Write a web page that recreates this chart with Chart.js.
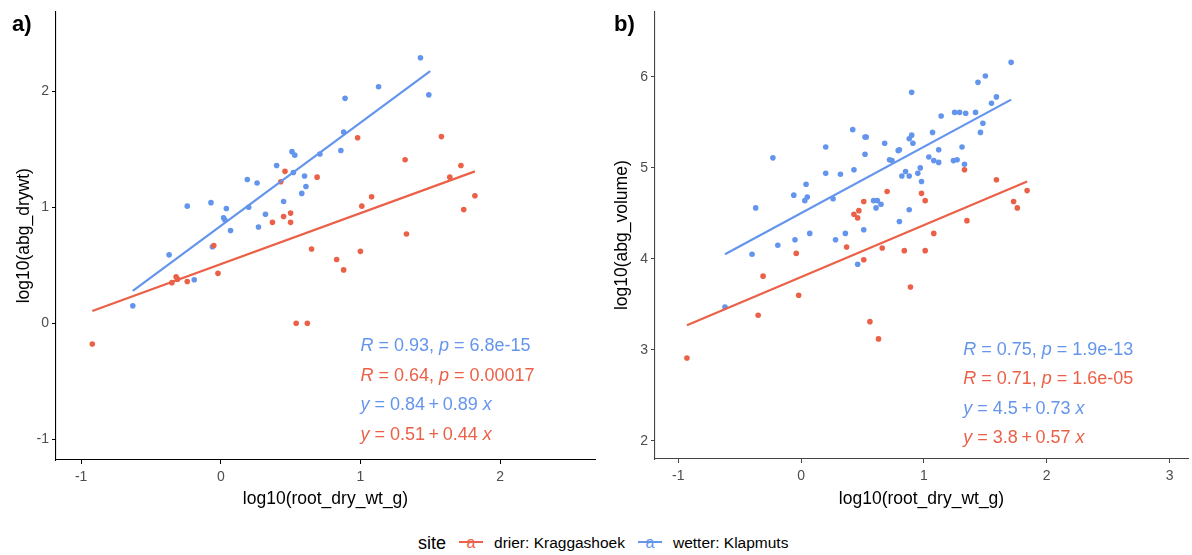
<!DOCTYPE html>
<html>
<head>
<meta charset="utf-8">
<script src="https://cdn.jsdelivr.net/npm/chart.js@4.4.1/dist/chart.umd.min.js"></script>
<style>
  body { margin: 0; background: #fff; font-family: "Liberation Sans", Arial, sans-serif; }
  #wrap { position: relative; width: 1192px; height: 555px; }
  canvas { position: absolute; top: 0; }
  .tag { position: absolute; top: 13px; font-size: 22px; font-weight: bold; line-height: 1; color: #000; }
  #legend { position: absolute; top: 532px; left: 418px; height: 22px; display: flex; align-items: center; color: #000; }
  #legend .ttl { font-size: 18px; margin-right: 12px; }
  #legend .key { position: relative; width: 26px; height: 20px; margin-right: 10px; }
  #legend .key i { position: absolute; left: 1px; right: 1px; top: 8px; height: 2px; }
  #legend .key b { position: absolute; left: 0; right: 0; top: 0px; text-align: center; font-weight: normal; font-size: 16px; line-height: 20px; }
  #legend .lab { font-size: 15.5px; margin-right: 12px; }
</style>
</head>
<body>
<div id="wrap">
  <canvas id="chartA" width="600" height="510" style="left:0"></canvas>
  <canvas id="chartB" width="592" height="510" style="left:600px"></canvas>
  <div class="tag" style="left:12px">a)</div>
  <div class="tag" style="left:614px">b)</div>
  <div id="legend"></div>
</div>
<script>
const RED = '#EB6148';
const BLUE = '#6495ED';
const legendTitle = 'site';
const siteNames = ['drier: Kraggashoek', 'wetter: Klapmuts'];

/* panel a) - dry weight */
const aDryX = [-0.92, -0.35, -0.32, -0.31, -0.24, -0.05, -0.02, 0.37, 0.43, 0.45, 0.46, 0.50, 0.50, 0.54, 0.62,
  0.65, 0.69, 0.83, 0.88, 0.98, 1.00, 1.01, 1.08, 1.32, 1.33, 1.58, 1.64, 1.72, 1.74, 1.82];
const aDryY = [-0.18, 0.35, 0.40, 0.38, 0.36, 0.67, 0.43, 0.87, 1.22, 0.92, 1.31, 0.95, 0.87, 0.00, 0.00,
  0.64, 1.26, 0.55, 0.46, 1.60, 0.62, 1.01, 1.09, 1.41, 0.77, 1.61, 1.26, 1.36, 0.98, 1.10];
const aWetX = [-0.63, -0.37, -0.24, -0.19, -0.07, -0.06, 0.02, 0.03, 0.04, 0.07, 0.19, 0.20, 0.26, 0.27, 0.32,
  0.40, 0.45, 0.51, 0.52, 0.53, 0.58, 0.60, 0.61, 0.71, 0.86, 0.88, 0.89, 1.13, 1.43, 1.49];
const aWetY = [0.15, 0.59, 1.01, 0.375, 1.04, 0.66, 0.91, 0.89, 0.99, 0.80, 1.24, 1.00, 1.21, 0.83, 0.94,
  1.36, 1.05, 1.48, 1.30, 1.45, 1.12, 1.27, 1.18, 1.46, 1.49, 1.65, 1.94, 2.04, 2.29, 1.97];
const aFitDryX = [-0.92, 1.82], aFitDryY = [0.105, 1.31];
const aFitWetX = [-0.63, 1.50], aFitWetY = [0.28, 2.175];
const aXTicks = [-1, 0, 1, 2];
const aYTicks = [-1, 0, 1, 2];
const aStats = [
  [BLUE, 'R = 0.93, p = 6.8e-15'],
  [RED, 'R = 0.64, p = 0.00017'],
  [BLUE, 'y = 0.84\u2009+\u20090.89 x'],
  [RED, 'y = 0.51\u2009+\u20090.44 x']
];

/* panel b) - volume */
const bDryX = [-0.93, -0.35, -0.31, -0.04, -0.02, 0.37, 0.43, 0.46, 0.47, 0.51, 0.51, 0.56, 0.63, 0.66, 0.70,
  0.84, 0.89, 0.98, 1.01, 1.01, 1.08, 1.33, 1.35, 1.59, 1.73, 1.76, 1.84];
const bDryY = [2.91, 3.38, 3.81, 4.06, 3.60, 4.13, 4.49, 4.45, 4.53, 4.63, 3.99, 3.31, 3.12, 4.12, 4.74,
  4.09, 3.69, 4.72, 4.64, 4.09, 4.28, 4.98, 4.42, 4.87, 4.63, 4.56, 4.75];
const bWetX = [0.90, 0.42, 0.52, 0.53, 0.20, -0.23, 0.52, 0.68, 0.80, 0.79, 0.88, 0.90, 0.91, 0.72, 0.74,
  0.43, 0.20, 0.32, 0.82, 0.85, 0.88, 0.95, 0.97, -0.06, 0.04, 0.03, 0.05, 0.26, -0.37, 0.59,
  0.62, 0.65, 0.61, 0.88, 0.80, 0.51, 0.07, 0.36, 0.28, -0.05, -0.19, -0.40, 0.46, -0.62, 1.71,
  1.50, 1.44, 1.59, 1.55, 1.25, 1.29, 1.34, 1.42, 1.14, 1.48, 1.46, 1.07, 1.31, 1.12, 1.04,
  1.08, 1.12, 1.24, 1.27, 1.33, 0.98];
const bWetY = [5.83, 5.42, 5.34, 5.34, 5.23, 5.11, 5.15, 5.27, 5.20, 5.19, 5.32, 5.36, 5.27, 5.09, 5.08,
  4.98, 4.94, 4.93, 4.91, 4.96, 4.91, 4.94, 5.00, 4.70, 4.82, 4.64, 4.68, 4.66, 4.56, 4.64,
  4.64, 4.60, 4.56, 4.54, 4.41, 4.32, 4.28, 4.28, 4.21, 4.21, 4.15, 4.05, 3.94, 3.47, 6.16,
  6.01, 5.94, 5.78, 5.71, 5.61, 5.61, 5.60, 5.61, 5.57, 5.49, 5.39, 5.39, 5.23, 5.20, 5.12,
  5.08, 5.06, 5.08, 5.09, 5.04, 4.85];
const bFitDryX = [-0.93, 1.84], bFitDryY = [3.27, 4.85];
const bFitWetX = [-0.62, 1.71], bFitWetY = [4.05, 5.75];
const bXTicks = [-1, 0, 1, 2, 3];
const bYTicks = [2, 3, 4, 5, 6];
const bStats = [
  [BLUE, 'R = 0.75, p = 1.9e-13'],
  [RED, 'R = 0.71, p = 1.6e-05'],
  [BLUE, 'y = 4.5\u2009+\u20090.73 x'],
  [RED, 'y = 3.8\u2009+\u20090.57 x']
];

const pts = (xs, ys) => xs.map((x, i) => ({ x: x, y: ys[i] }));

// R / p / x / y drawn in italics like the plotmath labels
const statText = {
  id: 'statText',
  afterDatasetsDraw(chart, args, opts) {
    if (!opts.lines) return;
    const ctx = chart.ctx;
    const x0 = chart.scales.x.getPixelForValue(opts.x);
    const y0 = chart.scales.y.getPixelForValue(opts.y);
    ctx.save();
    ctx.textBaseline = 'middle';
    ctx.textAlign = 'left';
    opts.lines.forEach((ln, i) => {
      let x = x0;
      const y = y0 + i * opts.gap;
      ctx.fillStyle = ln[0];
      ln[1].split(/([Rpyx])/).forEach((part, k) => {
        if (!part) return;
        ctx.font = (k % 2 ? 'italic ' : '') + '18px "Liberation Sans", Arial, sans-serif';
        ctx.fillText(part, x, y);
        x += ctx.measureText(part).width;
      });
    });
    ctx.restore();
  }
};

function makeChart(id, d) {
  const axisFont = { family: '"Liberation Sans", Arial, sans-serif', size: 17.5 };
  const tickFont = { family: '"Liberation Sans", Arial, sans-serif', size: 14 };
  new Chart(document.getElementById(id), {
    type: 'scatter',
    data: {
      datasets: [
        { data: pts(d.dryX, d.dryY), backgroundColor: RED, borderColor: RED, pointRadius: 2.8, borderWidth: 0, order: 1 },
        { data: pts(d.wetX, d.wetY), backgroundColor: BLUE, borderColor: BLUE, pointRadius: 2.8, borderWidth: 0, order: 2 },
        { type: 'line', data: pts(d.fitDryX, d.fitDryY), borderColor: RED, borderWidth: 2.2, pointRadius: 0, order: 0 },
        { type: 'line', data: pts(d.fitWetX, d.fitWetY), borderColor: BLUE, borderWidth: 2.2, pointRadius: 0, order: 0 }
      ]
    },
    options: {
      responsive: false,
      animation: false,
      layout: { padding: { top: 10, right: d.padRight, bottom: 0, left: 0 } },
      plugins: {
        legend: { display: false },
        tooltip: { enabled: false },
        statText: { x: d.statX, y: d.statY, gap: 29.5, lines: d.stats }
      },
      scales: {
        x: {
          type: 'linear',
          min: d.xMin, max: d.xMax,
          afterBuildTicks: s => { s.ticks = d.xTicks.map(v => ({ value: v })); },
          afterFit: s => { s.height = d.xAxisH; },
          ticks: { color: '#4D4D4D', font: tickFont, padding: 5 },
          grid: { drawOnChartArea: false, tickLength: 4, color: d.axisColor },
          border: { color: d.axisColor, width: 1.1 },
          title: { display: true, text: d.xTitle, color: '#000', font: axisFont, padding: { top: 3, bottom: 0 } }
        },
        y: {
          type: 'linear',
          min: d.yMin, max: d.yMax,
          afterBuildTicks: s => { s.ticks = d.yTicks.map(v => ({ value: v })); },
          afterFit: s => { s.width = d.yAxisW; },
          ticks: { color: '#4D4D4D', font: tickFont, padding: 3 },
          grid: { drawOnChartArea: false, tickLength: 4, color: d.axisColor },
          border: { color: d.axisColor, width: 1.1 },
          title: { display: true, text: d.yTitle, color: '#000', font: axisFont, padding: { top: d.yTitlePad, bottom: 0 } }
        }
      }
    },
    plugins: [statText]
  });
}

makeChart('chartA', {
  dryX: aDryX, dryY: aDryY, wetX: aWetX, wetY: aWetY,
  fitDryX: aFitDryX, fitDryY: aFitDryY, fitWetX: aFitWetX, fitWetY: aFitWetY,
  xTicks: aXTicks, yTicks: aYTicks,
  xMin: -1.18, xMax: 2.68, yMin: -1.18, yMax: 2.69,
  xTitle: 'log10(root_dry_wt_g)', yTitle: 'log10(abg_drywt)',
  xAxisH: 50, yAxisW: 56, padRight: 5, yTitlePad: 14,
  axisColor: '#000',
  statX: 1.0, statY: -0.2, stats: aStats
});

makeChart('chartB', {
  dryX: bDryX, dryY: bDryY, wetX: bWetX, wetY: bWetY,
  fitDryX: bFitDryX, fitDryY: bFitDryY, fitWetX: bFitWetX, fitWetY: bFitWetY,
  xTicks: bXTicks, yTicks: bYTicks,
  xMin: -1.19, xMax: 3.15, yMin: 1.80, yMax: 6.72,
  xTitle: 'log10(root_dry_wt_g)', yTitle: 'log10(abg_volume)',
  xAxisH: 51, yAxisW: 55, padRight: 2, yTitlePad: 12,
  axisColor: '#444',
  statX: 1.32, statY: 3.0, stats: bStats
});

// shared legend at the bottom
const legend = document.getElementById('legend');
legend.innerHTML = '<span class="ttl">' + legendTitle + '</span>' +
  siteNames.map((name, i) => {
    const c = i === 0 ? RED : BLUE;
    return '<span class="key"><i style="background:' + c + '"></i><b style="color:' + c + '">a</b></span>' +
      '<span class="lab">' + name + '</span>';
  }).join('');
</script>
</body>
</html>
